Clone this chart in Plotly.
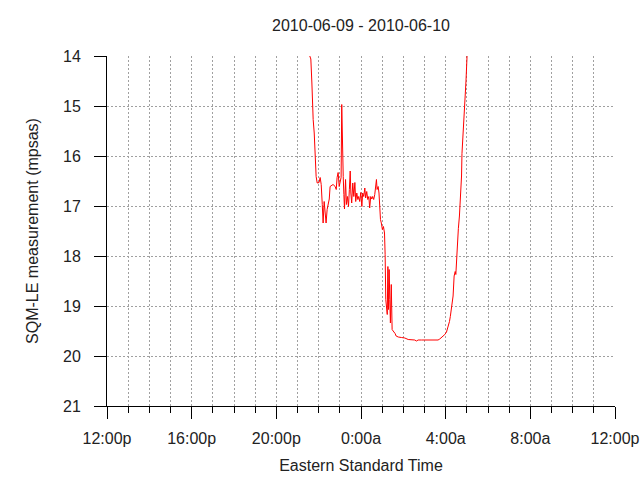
import plotly.graph_objects as go

# hours after 12:00p on 2010-06-09
hours = [9.58, 9.63, 9.68, 9.71, 9.74, 9.79, 9.83, 9.88, 9.93, 10.02, 10.07, 10.12,
         10.17, 10.21, 10.26, 10.31, 10.35, 10.40, 10.45, 10.50, 10.54, 10.59, 10.68,
         10.78, 10.83, 10.87, 10.92, 10.97, 11.01, 11.06, 11.09, 11.12, 11.16, 11.19,
         11.22, 11.27, 11.31, 11.36, 11.41, 11.45, 11.49, 11.52, 11.56, 11.61, 11.66,
         11.71, 11.75, 11.80, 11.85, 11.89, 11.94, 11.99, 12.04, 12.08, 12.13, 12.18,
         12.22, 12.27, 12.32, 12.37, 12.41, 12.46, 12.51, 12.55, 12.60, 12.65, 12.70,
         12.73, 12.76, 12.81, 12.85, 12.89, 12.92, 12.96, 13.01, 13.06, 13.11, 13.14,
         13.17, 13.24, 13.27, 13.30, 13.33, 13.36, 13.39, 13.43, 13.46, 13.47, 13.52,
         13.57, 13.61, 13.66, 13.76, 13.91, 14.07, 14.23, 14.39, 14.54, 14.62, 14.70,
         14.86, 15.01, 15.17, 15.33, 15.49, 15.64, 15.72, 15.85, 15.96, 16.04, 16.08,
         16.13, 16.18, 16.22, 16.27, 16.32, 16.35, 16.40, 16.45, 16.48, 16.51, 16.56,
         16.60, 16.65, 16.70, 16.75, 16.77, 16.82, 16.87, 16.91, 16.96, 17.01]

mpsas = [14.00, 14.06, 14.54, 15.01, 15.27, 15.54, 15.94, 16.41, 16.54, 16.53, 16.43, 16.57,
         16.97, 17.34, 16.91, 17.17, 17.34, 17.07, 16.97, 16.86, 16.61, 16.59, 16.57,
         16.61, 16.67, 16.43, 16.33, 16.61, 16.51, 16.43, 14.97, 15.81, 16.41, 16.77,
         17.06, 16.47, 16.97, 16.81, 17.01, 16.67, 16.30, 16.74, 16.94, 16.54, 16.81,
         16.53, 16.91, 16.74, 16.87, 16.81, 16.91, 16.73, 17.01, 16.74, 16.81, 16.64,
         16.84, 16.71, 16.87, 16.81, 17.04, 16.81, 16.86, 16.81, 16.87, 16.77, 16.61,
         16.47, 16.67, 16.61, 16.74, 17.07, 17.27, 17.34, 17.47, 17.41, 17.54, 17.97,
         18.87, 19.17, 18.21, 19.07, 18.27, 18.87, 19.34, 18.57, 19.07, 19.47, 19.50,
         19.52, 19.55, 19.60, 19.62, 19.63, 19.64, 19.67, 19.67, 19.68, 19.70, 19.68,
         19.68, 19.68, 19.68, 19.68, 19.68, 19.68, 19.66, 19.62, 19.57, 19.52, 19.47,
         19.40, 19.31, 19.21, 19.01, 18.87, 18.80, 18.40, 18.31, 18.37, 18.10, 17.80,
         17.45, 17.20, 16.90, 16.40, 15.95, 15.60, 15.25, 14.90, 14.50, 14.00]

tick_hours = [0, 4, 8, 12, 16, 20, 24]
tick_labels = ["12:00p", "16:00p", "20:00p", "0:00a", "4:00a", "8:00a", "12:00p"]
y_ticks = [14, 15, 16, 17, 18, 19, 20, 21]

FONT = "Liberation Sans, Arial, sans-serif"
GRID = "#a0a0a0"

W, H = 640, 480

fig = go.Figure()
fig.add_trace(go.Scatter(x=hours, y=mpsas, mode="lines", hoverinfo="skip",
                         line=dict(color="#ff0000", width=1), showlegend=False))

fig.update_layout(
    width=W, height=H,
    margin=dict(l=107, r=25, t=56, b=74, autoexpand=False),
    paper_bgcolor="white", plot_bgcolor="white",
    font=dict(family=FONT, size=16, color="#222222"),
    title=dict(text="2010-06-09 - 2010-06-10", x=0.5, xref="paper", xanchor="center",
               y=1 - 25 / H, yref="container", yanchor="middle",
               font=dict(size=16, color="#222222")),
)

fig.update_xaxes(
    range=[0, 24], tickmode="array", tickvals=tick_hours, ticktext=tick_labels,
    showline=True, linecolor="black", linewidth=1,
    ticks="outside", ticklen=12, tickwidth=1, tickcolor="black",
    ticklabelstandoff=6, automargin=False, ticklabeloverflow="allow",
    showgrid=True, gridcolor=GRID, griddash="2px,2px", gridwidth=1,
    minor=dict(dtick=1, tick0=0, ticks="outside", ticklen=6, tickwidth=1, tickcolor="black",
               showgrid=True, gridcolor=GRID, griddash="2px,2px", gridwidth=1),
    zeroline=False, mirror=False,
    title=dict(text="Eastern Standard Time", standoff=13, font=dict(size=16)),
)

fig.update_yaxes(
    range=[21, 14], tickmode="array", tickvals=y_ticks,
    showline=True, linecolor="black", linewidth=1,
    ticks="outside", ticklen=12, tickwidth=1, tickcolor="black",
    ticklabelstandoff=10, automargin=False,
    showgrid=True, gridcolor=GRID, griddash="2px,2px", gridwidth=1,
    zeroline=False, mirror=False,
    title=dict(text="SQM-LE measurement (mpsas)", standoff=20, font=dict(size=16)),
)

# remove the default page margin so the 640x480 figure fills the window exactly
fig.write_html("out.html",
               config={"displayModeBar": False, "staticPlot": True},
               post_script="document.body.style.margin='0';document.body.style.overflow='hidden';")
